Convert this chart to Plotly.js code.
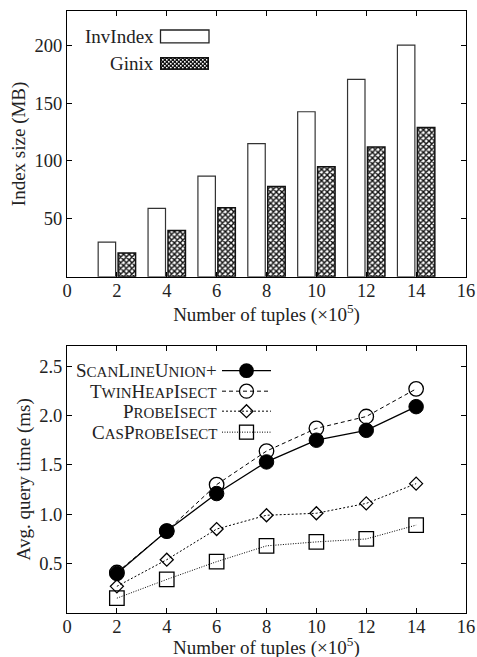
<!DOCTYPE html>
<html>
<head>
<meta charset="utf-8">
<script src="https://cdn.plot.ly/plotly-3.0.1.min.js"></script>
<style>html,body{margin:0;padding:0;background:#fff;}#chart{width:477px;height:657px;}</style>
</head>
<body>
<div id="chart"></div>
<script>
// ---- data ----
const tuples = [2, 4, 6, 8, 10, 12, 14];
const invIndexMB = [30, 59, 87, 115, 142.5, 170.5, 200];
const ginixMB = [20.5, 40, 59.5, 78, 95, 112, 129];

const scanLineUnion = [0.40, 0.83, 1.21, 1.53, 1.75, 1.85, 2.09];
const twinHeapIsect = [0.41, 0.83, 1.30, 1.64, 1.87, 1.99, 2.27];
const probeIsect = [0.27, 0.54, 0.85, 0.99, 1.01, 1.11, 1.31];
const casProbeIsect = [0.15, 0.34, 0.52, 0.68, 0.72, 0.75, 0.89];

const seriesNames = ['ScanLineUnion+', 'TwinHeapIsect', 'ProbeIsect', 'CasProbeIsect'];
const barNames = ['InvIndex', 'Ginix'];

const xTicks = [0, 2, 4, 6, 8, 10, 12, 14, 16];
const topYTicks = [50, 100, 150, 200];
const botYTicks = [0.5, 1.0, 1.5, 2.0, 2.5];

// ---- style ----
const FONT = 'Liberation Serif';
const L = 67, R = 11, T = 11, B = 43.5, W = 477, H = 657;
const PH = H - T - B;
const PW = W - L - R;
const px2x = p => (p - L) / PW;
const py2y = p => (H - B - p) / PH;

// small caps: capitals kept, lower-case runs shown as smaller capitals
const SMALL = 15;
function smallCaps(s) {
  return s.replace(/[a-z]+/g, m => '<span style="font-size:' + SMALL + 'px">' + m.toUpperCase() + '</span>');
}

const svgURI = s => 'data:image/svg+xml;utf8,' + encodeURIComponent(s);

// legend swatch for the patterned bars
const patternSvg = svgURI(
  '<svg xmlns="http://www.w3.org/2000/svg" width="49" height="13">' +
  '<defs><pattern id="p" width="4" height="4" patternUnits="userSpaceOnUse">' +
  '<rect width="4" height="4" fill="#111"/><rect x="0" y="0" width="1.6" height="1.6" fill="#fff"/>' +
  '<rect x="2" y="2" width="1.6" height="1.6" fill="#fff"/></pattern></defs>' +
  '<rect x="0.75" y="0.75" width="47.5" height="11.5" fill="url(#p)" stroke="#111" stroke-width="1.5"/></svg>');

// legend samples (line + marker) for the line chart
const lineStyles = [
  {dash: '', lw: 1.3, mk: '<circle cx="24.5" cy="9" r="7.4" fill="#000"/>'},
  {dash: '4,3', lw: 1, mk: '<circle cx="24.5" cy="9" r="7" fill="none" stroke="#000" stroke-width="1.3"/>'},
  {dash: '2,2', lw: 1, mk: '<polygon points="24.5,2.5 31,9 24.5,15.5 18,9" fill="none" stroke="#000" stroke-width="1.3"/>'},
  {dash: '1,1.5', lw: 1, mk: '<rect x="17.5" y="2" width="14" height="14" fill="none" stroke="#000" stroke-width="1.3"/>'}
];
const sampleSvg = st => svgURI(
  '<svg xmlns="http://www.w3.org/2000/svg" width="49" height="18">' +
  '<line x1="0" y1="9" x2="49" y2="9" stroke="#000" stroke-width="' + st.lw + '"' +
  (st.dash ? ' stroke-dasharray="' + st.dash + '"' : '') + '/>' + st.mk + '</svg>');

const traces = [
  {type: 'bar', x: tuples, y: invIndexMB, name: barNames[0], xaxis: 'x', yaxis: 'y',
   marker: {color: '#ffffff', line: {color: '#333', width: 1.2}}},
  {type: 'bar', x: tuples, y: ginixMB, name: barNames[1], xaxis: 'x', yaxis: 'y',
   marker: {color: '#ffffff', line: {color: '#111', width: 1.5},
            pattern: {shape: 'x', size: 4, solidity: 0.6, fgcolor: '#111', bgcolor: '#fff'}}},
  {type: 'scatter', mode: 'lines+markers', x: tuples, y: scanLineUnion, name: seriesNames[0],
   xaxis: 'x2', yaxis: 'y2',
   line: {color: '#000', width: 1.3, dash: 'solid'},
   marker: {symbol: 'circle', size: 14.5, color: '#000', line: {color: '#000', width: 1}}},
  {type: 'scatter', mode: 'lines+markers', x: tuples, y: twinHeapIsect, name: seriesNames[1],
   xaxis: 'x2', yaxis: 'y2',
   line: {color: '#000', width: 1, dash: '4px,3px'},
   marker: {symbol: 'circle-open', size: 14.5, color: '#000', line: {color: '#000', width: 1.3}}},
  {type: 'scatter', mode: 'lines+markers', x: tuples, y: probeIsect, name: seriesNames[2],
   xaxis: 'x2', yaxis: 'y2',
   line: {color: '#000', width: 1, dash: '2px,2px'},
   marker: {symbol: 'diamond-open', size: 10, color: '#000', line: {color: '#000', width: 1.3}}},
  {type: 'scatter', mode: 'lines+markers', x: tuples, y: casProbeIsect, name: seriesNames[3],
   xaxis: 'x2', yaxis: 'y2',
   line: {color: '#000', width: 1, dash: '1px,1.5px'},
   marker: {symbol: 'square-open', size: 14.5, color: '#000', line: {color: '#000', width: 1.3}}}
];

const axisCommon = {
  showline: true, linecolor: '#000', linewidth: 1, mirror: 'allticks',
  ticks: 'inside', ticklen: 5, tickcolor: '#000', tickwidth: 1,
  showgrid: false, zeroline: false,
  tickfont: {family: FONT, size: 18.5, color: '#222'}
};

const xTitle = 'Number of tuples (×10<sup>5</sup>)';
const titleFont = {family: FONT, size: 19, color: '#222'};

const legendRows = [371, 391.5, 411.5, 432.5];

const layout = {
  width: W, height: H,
  margin: {l: L, r: R, t: T, b: B},
  paper_bgcolor: '#fff', plot_bgcolor: '#fff',
  font: {family: FONT, color: '#222'},
  showlegend: false,
  barmode: 'group', bargap: 0.2, bargroupgap: 0.125,
  xaxis: Object.assign({}, axisCommon, {
    domain: [0, 1], anchor: 'y', range: [0, 16], tickvals: xTicks, ticktext: xTicks.map(String),
    ticklabelstandoff: -3,
    title: {text: xTitle, font: titleFont, standoff: 4.5}
  }),
  yaxis: Object.assign({}, axisCommon, {
    domain: [py2y(277), 1], anchor: 'x', range: [0, 229.5], tickvals: topYTicks,
    title: {text: 'Index size (MB)', font: titleFont, standoff: 3.5}
  }),
  xaxis2: Object.assign({}, axisCommon, {
    domain: [0, 1], anchor: 'y2', range: [0, 16], tickvals: xTicks, ticktext: xTicks.map(String),
    ticklabelstandoff: -3
  }),
  yaxis2: Object.assign({}, axisCommon, {
    domain: [0, py2y(346)], anchor: 'x2', range: [0, 2.707], tickvals: botYTicks,
    tickformat: '.1f',
    title: {text: 'Avg. query time (ms)', font: titleFont, standoff: 3.5}
  }),
  shapes: [
    {type: 'rect', xref: 'paper', yref: 'paper',
     x0: px2x(160.5), x1: px2x(209), y0: py2y(43), y1: py2y(30),
     line: {color: '#222', width: 1.3}, fillcolor: '#fff'}
  ],
  images: [
    {source: patternSvg, xref: 'paper', yref: 'paper', x: px2x(160), y: py2y(57),
     sizex: 49 / PW, sizey: 13 / PH, xanchor: 'left', yanchor: 'top', sizing: 'stretch', layer: 'above'}
  ].concat(lineStyles.map((st, i) => ({
    source: sampleSvg(st), xref: 'paper', yref: 'paper', x: px2x(222), y: py2y(legendRows[i] - 9),
    sizex: 49 / PW, sizey: 18 / PH, xanchor: 'left', yanchor: 'top', sizing: 'stretch', layer: 'above'
  }))),
  annotations: [
    {text: barNames[0], x: px2x(156), y: py2y(36.5)},
    {text: barNames[1], x: px2x(156), y: py2y(63.5)}
  ].concat(seriesNames.map((n, i) => ({text: smallCaps(n), x: px2x(219), y: py2y(legendRows[i])})))
   .map(a => ({
    text: a.text, x: a.x, y: a.y, xref: 'paper', yref: 'paper',
    xanchor: 'right', yanchor: 'middle', showarrow: false,
    font: {family: FONT, size: 19, color: '#222'}
  })).concat([{
    // x-axis title of the lower chart, at the bottom edge as in the original
    text: xTitle, x: 0.5, y: 0, yshift: (H - B) - 632, xref: 'paper', yref: 'paper',
    xanchor: 'center', yanchor: 'top', showarrow: false,
    font: titleFont
  }])
};

Plotly.newPlot('chart', traces, layout, {staticPlot: true, displayModeBar: false});
</script>
</body>
</html>
